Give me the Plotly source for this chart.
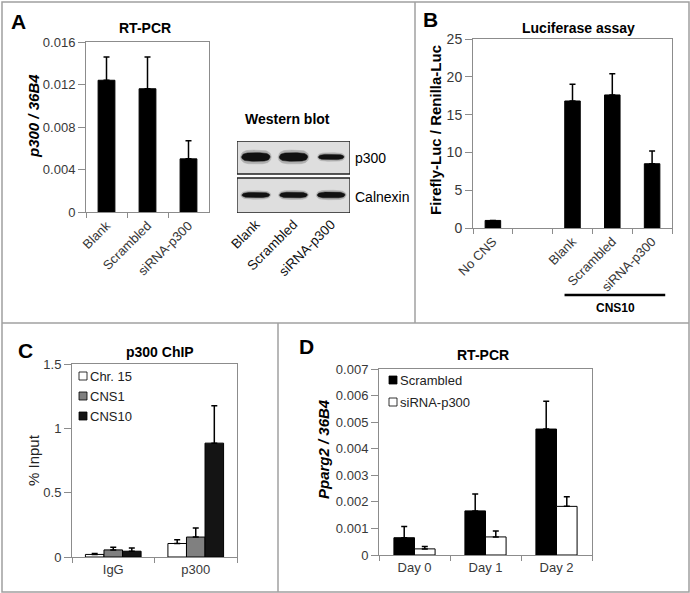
import numpy as np
import plotly.graph_objects as go

W, H = 690, 593
FONT = "Liberation Sans, Arial, sans-serif"
TICKC = "#383838"
AXC = "#8c8c8c"

# ---------------- data ----------------
# Panel A: RT-PCR p300 / 36B4
a_cats = ["Blank", "Scrambled", "siRNA-p300"]
a_vals = [0.0124, 0.0116, 0.0050]
a_err = [0.0022, 0.0030, 0.0017]
a_tickvals = [0, 0.004, 0.008, 0.012, 0.016]
a_ticktext = ["0", "0.004", "0.008", "0.012", "0.016"]

# Western blot (relative band intensities)
blot_lanes = ["Blank", "Scrambled", "siRNA-p300"]
blot_p300 = [1.0, 1.0, 0.62]
blot_calnexin = [0.72, 0.78, 0.82]

# Panel B: Luciferase assay
b_cats = ["No CNS", " ", "Blank", "Scrambled", "siRNA-p300"]
b_vals = [1.0, None, 16.8, 17.6, 8.5]
b_err = [0.0, 0.0, 2.2, 2.8, 1.7]
b_tickvals = [0, 5, 10, 15, 20, 25]

# Panel C: p300 ChIP
c_cats = ["IgG", "p300"]
c_series = ["Chr. 15", "CNS1", "CNS10"]
c_chr15 = [0.02, 0.105]
c_cns1 = [0.055, 0.155]
c_cns10 = [0.045, 0.885]
c_chr15_err = [0.008, 0.03]
c_cns1_err = [0.02, 0.07]
c_cns10_err = [0.025, 0.29]
c_tickvals = [0, 0.5, 1, 1.5]
c_ticktext = ["0", "0.5", "1", "1.5"]

# Panel D: RT-PCR Pparg2 / 36B4
d_cats = ["Day 0", "Day 1", "Day 2"]
d_series = ["Scrambled", "siRNA-p300"]
d_scr = [0.00065, 0.00166, 0.00474]
d_sirna = [0.00023, 0.00068, 0.00183]
d_scr_err = [0.00042, 0.00064, 0.00105]
d_sirna_err = [0.00009, 0.00022, 0.00036]
d_tickvals = [0, 0.001, 0.002, 0.003, 0.004, 0.005, 0.006, 0.007]
d_ticktext = ["0", "0.001", "0.002", "0.003", "0.004", "0.005", "0.006", "0.007"]


def px(x):
    return x / W


def py(y):
    return 1 - y / H


def errd(arr):
    return dict(type="data", symmetric=False, array=arr, arrayminus=[0] * len(arr),
                color="black", thickness=1.5, width=3)


fig = go.Figure()

# Panel A
fig.add_trace(go.Bar(x=a_cats, y=a_vals, error_y=errd(a_err), width=0.41,
                     marker=dict(color="black", line=dict(color="black", width=1)),
                     xaxis="x", yaxis="y", showlegend=False))
# Panel B
fig.add_trace(go.Bar(x=b_cats, y=b_vals, error_y=errd(b_err), width=0.39,
                     marker=dict(color="black", line=dict(color="black", width=1)),
                     xaxis="x2", yaxis="y2", showlegend=False))
# Panel C
c_colors = ["white", "#808080", "#141414"]
c_data = [c_chr15, c_cns1, c_cns10]
c_errs = [c_chr15_err, c_cns1_err, c_cns10_err]
cw = 0.225
for i, (name, vals, er, col) in enumerate(zip(c_series, c_data, c_errs, c_colors)):
    fig.add_trace(go.Bar(x=c_cats, y=vals, name=name, error_y=errd(er), width=cw,
                         offset=-1.5 * cw + i * cw,
                         marker=dict(color=col, line=dict(color="black", width=1)),
                         xaxis="x3", yaxis="y3", showlegend=False))
# Panel D
d_colors = ["black", "white"]
dw = 0.29
for i, (name, vals, er, col) in enumerate(zip(d_series, [d_scr, d_sirna],
                                               [d_scr_err, d_sirna_err], d_colors)):
    fig.add_trace(go.Bar(x=d_cats, y=vals, name=name, error_y=errd(er), width=dw,
                         offset=-dw + i * dw,
                         marker=dict(color=col, line=dict(color="black", width=1)),
                         xaxis="x4", yaxis="y4", showlegend=False))

# Western blot bands (soft halo + dark core)
def band(lane, yc, inten, half_w, max_h):
    t = np.linspace(-1, 1, 41)
    h = max_h * inten * (1 - np.abs(t) ** 4) ** 0.5
    xs = np.concatenate([lane + half_w * t, lane + half_w * t[::-1]])
    ys = np.concatenate([yc + h, yc - h[::-1]])
    return xs, ys

for i, lane in enumerate(blot_lanes):
    for vals, yc, hw, mh in [(blot_p300, 56, 0.38 if blot_p300[i] > 0.8 else 0.34, 4.3),
                             (blot_calnexin, 18, 0.37, 3.6)]:
        for scale_w, scale_h, col, op in [(1.08, 1.6, "#777777", 0.45), (1.0, 1.0, "#111111", 1.0)]:
            xs, ys = band(i + 1, yc, vals[i] * scale_h, hw * scale_w, mh)
            fig.add_trace(go.Scatter(x=xs, y=ys, fill="toself", mode="lines",
                                     line=dict(color=col, width=0.5), opacity=op,
                                     fillcolor=col, xaxis="x5", yaxis="y5",
                                     showlegend=False, hoverinfo="skip"))

axis_common = dict(showline=True, linecolor=AXC, linewidth=1, mirror=True,
                   ticks="outside", ticklen=7, tickcolor=AXC, showgrid=False,
                   zeroline=False, automargin=False,
                   tickfont=dict(family=FONT, size=13, color=TICKC))
xcat = dict(ticklen=5)

layout = dict(
    width=W, height=H, margin=dict(l=0, r=0, t=0, b=0, pad=0, autoexpand=False),
    paper_bgcolor="white", plot_bgcolor="white",
    font=dict(family=FONT, color="black"),
    barmode="group", showlegend=False,
    xaxis=dict(axis_common, **xcat, domain=[px(86), px(209)], anchor="y", type="category",
               tickson="boundaries", tickangle=-45, categoryorder="array", categoryarray=a_cats),
    yaxis=dict(axis_common, domain=[py(212), py(42)], anchor="x", range=[0, 0.016],
               tickvals=a_tickvals, ticktext=a_ticktext),
    xaxis2=dict(axis_common, **xcat, domain=[px(473), px(672)], anchor="y2", type="category",
                tickson="boundaries", tickangle=-45, categoryorder="array", categoryarray=b_cats),
    yaxis2=dict(axis_common, domain=[py(228), py(39)], anchor="x2", range=[0, 25],
                tickvals=b_tickvals, tickfont=dict(family=FONT, size=14, color=TICKC)),
    xaxis3=dict(axis_common, **xcat, domain=[px(72), px(237)], anchor="y3", type="category",
                tickson="boundaries", tickangle=0),
    yaxis3=dict(axis_common, domain=[py(557), py(364)], anchor="x3", range=[0, 1.5],
                tickvals=c_tickvals, ticktext=c_ticktext),
    xaxis4=dict(axis_common, **xcat, domain=[px(379), px(592)], anchor="y4", type="category",
                tickson="boundaries", tickangle=0),
    yaxis4=dict(axis_common, domain=[py(555), py(369)], anchor="x4", range=[0, 0.007],
                tickvals=d_tickvals, ticktext=d_ticktext),
    xaxis5=dict(domain=[px(237), px(350)], anchor="y5", range=[0.5, 3.5],
                tickvals=[1, 2, 3], ticktext=blot_lanes, tickangle=-45, showline=False,
                showgrid=False, zeroline=False, ticks="", automargin=False,
                tickfont=dict(family=FONT, size=13.5, color="#111")),
    yaxis5=dict(domain=[py(213), py(141)], anchor="x5", range=[0, 72], visible=False,
                automargin=False),
)
fig.update_layout(**layout)

shapes = []
GRAYL = dict(color="#a0a0a0", width=1.5)
shapes.append(dict(type="rect", xref="paper", yref="paper", x0=px(2), x1=px(689), y0=py(592), y1=py(2),
                   line=GRAYL))
shapes.append(dict(type="line", xref="paper", yref="paper", x0=px(2), x1=px(689), y0=py(323), y1=py(323),
                   line=GRAYL))
shapes.append(dict(type="line", xref="paper", yref="paper", x0=px(415), x1=px(415), y0=py(323), y1=py(2),
                   line=GRAYL))
shapes.append(dict(type="line", xref="paper", yref="paper", x0=px(278), x1=px(278), y0=py(592), y1=py(323),
                   line=GRAYL))
# blot boxes
shapes.append(dict(type="rect", xref="x5", yref="y5", x0=0.5, x1=3.5, y0=39, y1=72,
                   line=dict(color="#222", width=1.3), fillcolor="#dedede", layer="below"))
shapes.append(dict(type="rect", xref="x5", yref="y5", x0=0.5, x1=3.5, y0=0, y1=35,
                   line=dict(color="#222", width=1.3), fillcolor="#dedede", layer="below"))
# CNS10 bracket
shapes.append(dict(type="line", xref="x2", yref="paper", x0=1.8, x1=4.33, y0=py(295), y1=py(295),
                   line=dict(color="black", width=2.5)))

ann = []
def A(x, y, text, size=14, angle=0, xanchor="center", color="black"):
    ann.append(dict(x=px(x), y=py(y), xref="paper", yref="paper", text=text, showarrow=False,
                    textangle=angle, xanchor=xanchor, yanchor="middle",
                    font=dict(family=FONT, size=size, color=color)))

# manual legends (small swatch + label)
def legend(x, y0, step, names, colors):
    for k, (nm, col) in enumerate(zip(names, colors)):
        yc = y0 + k * step
        shapes.append(dict(type="rect", xref="paper", yref="paper", x0=px(x), x1=px(x + 8),
                           y0=py(yc + 4), y1=py(yc - 4), fillcolor=col,
                           line=dict(color="black", width=0.8)))
        A(x + 9, yc, nm, 13, xanchor="left", color="#222")

legend(79, 376, 20, c_series, c_colors)
legend(389, 380, 22, d_series, d_colors)

A(18, 21, "<b>A</b>", 21)
A(430, 20, "<b>B</b>", 21)
A(25, 350, "<b>C</b>", 21)
A(306, 346, "<b>D</b>", 21)
A(145, 28, "<b>RT-PCR</b>")
A(287, 119, "<b>Western blot</b>")
A(578, 28, "<b>Luciferase assay</b>")
A(160, 352, "<b>p300 ChIP</b>")
A(483, 355, "<b>RT-PCR</b>")
A(33, 116, "<b><i>p300 / 36B4</i></b>", 15, -90)
A(435, 130, "<b>Firefly-Luc / Renilla-Luc</b>", 15, -90)
A(33, 460, "% Input", 15, -90, color="#222")
A(323, 449, "<b><i>Pparg2 / 36B4</i></b>", 15, -90)
A(353, 158, "p300", 14, xanchor="left")
A(353, 197, "Calnexin", 14, xanchor="left")
A(615, 308, "<b>CNS10</b>", 12)
fig.update_layout(annotations=ann, shapes=shapes)

fig.write_html("out.html", post_script="document.body.style.margin='0';",
               config={"displayModeBar": False})
